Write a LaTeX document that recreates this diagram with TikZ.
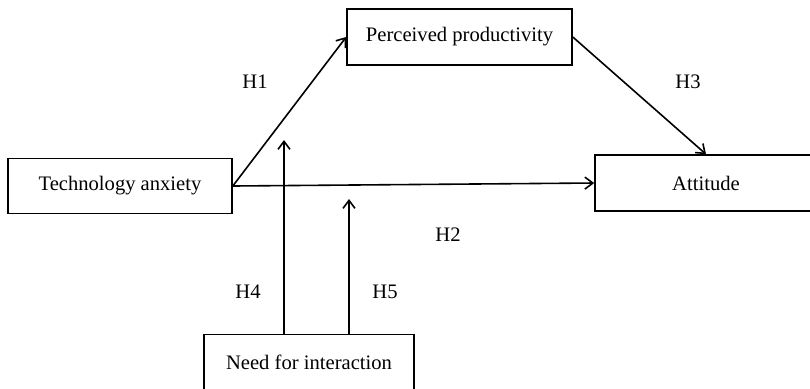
\documentclass[tikz,border=0pt]{standalone}
\usepackage{fontspec}
\setmainfont{Liberation Serif}
\usetikzlibrary{arrows.meta}

\begin{document}
\begin{tikzpicture}[x=0.5pt,y=-0.5pt,>={Straight Barb[length=4pt,width=6pt]},line width=0.8pt,
box/.style={draw,inner sep=0pt,minimum height=27.5pt,font=\fontsize{10.3}{12}\selectfont},
hyp/.style={font=\fontsize{10.3}{12}\selectfont}]
\useasboundingbox (0,0) rectangle (810,388);
\clip (0,0) rectangle (810,388);
\node[box,minimum width=112pt](ta) at (120,186) {Technology anxiety};
\node[box,minimum width=112.5pt,minimum height=28pt](pp) at (459.5,37) {Perceived productivity};
\node[box,minimum width=111pt,minimum height=28pt](at) at (706,183) {Attitude};
\node[box,minimum width=105pt](ni) at (309,362) {Need for interaction};
\draw[->](ta.east)--(pp.west);
\draw[->](ta.east)--(at.west);
\draw[->](pp.east)--(at.north);
\coordinate (m1) at (284,140);
\coordinate (m2) at (349,199);
\draw[->](m1 |- ni.north)--(m1);
\draw[->](m2 |- ni.north)--(m2);
\node[hyp](h1) at (255,82) {H1};
\node[hyp](h2) at (448,235) {H2};
\node[hyp](h3) at (688,82) {H3};
\node[hyp](h4) at (248,292) {H4};
\node[hyp](h5) at (385,292) {H5};
\end{tikzpicture}
\end{document}
